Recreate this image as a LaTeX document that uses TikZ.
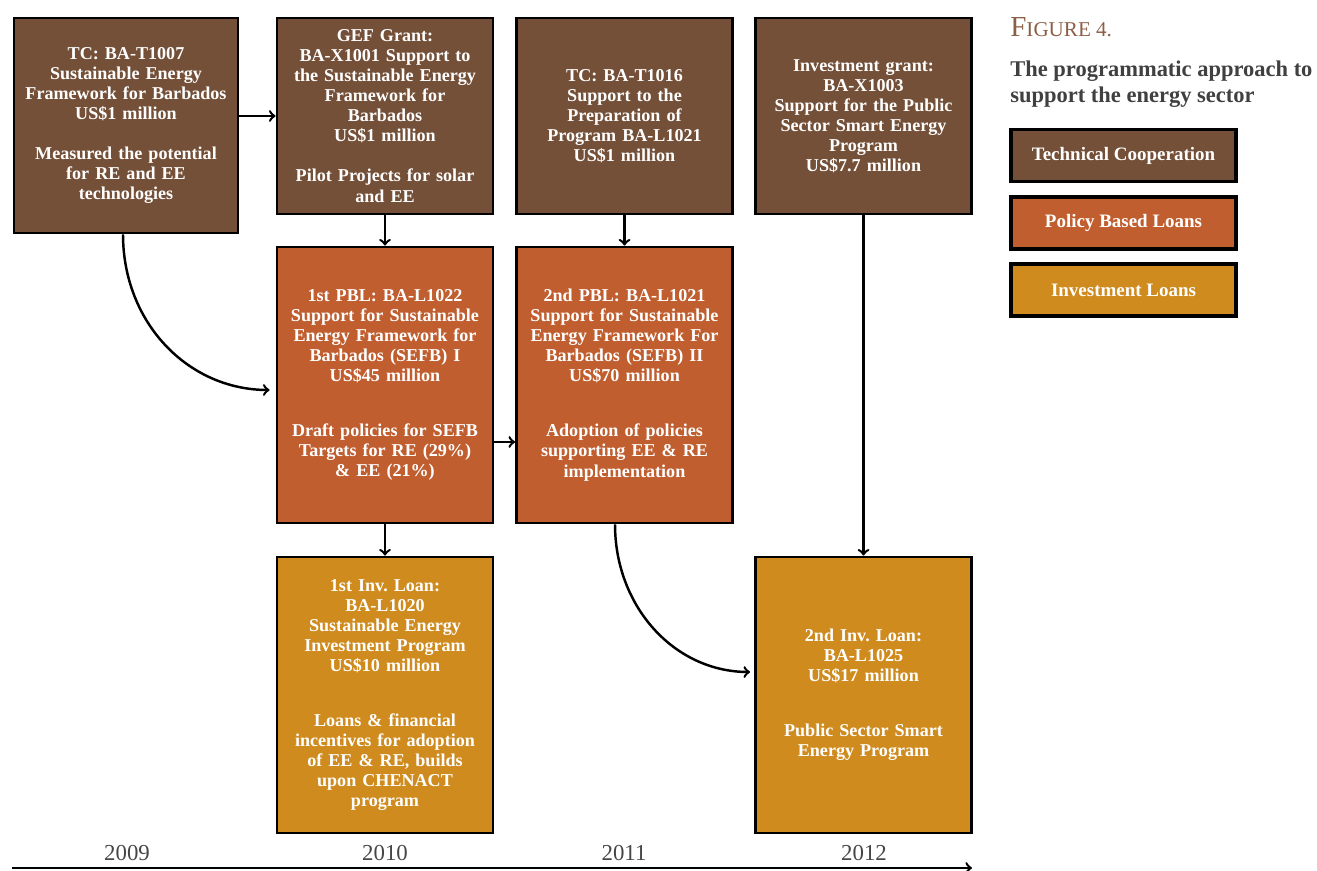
\documentclass[tikz,border=0pt]{standalone}
\usepackage{fontspec}
\setmainfont{Liberation Serif}
\usepackage{tikz}
\usetikzlibrary{arrows}

\definecolor{tcbrown}{RGB}{116,80,56}
\definecolor{pblorange}{RGB}{192,94,47}
\definecolor{invgold}{RGB}{207,139,30}
\definecolor{figbrown}{RGB}{140,94,70}
\definecolor{titlegray}{RGB}{64,64,64}
\definecolor{yeargray}{RGB}{70,70,70}

\tikzset{
  progbox/.style={draw=black, line width=1.6pt, text=white, inner sep=0pt,
    align=center, text width=4.2cm, minimum width=4.32cm,
    font=\bfseries\fontsize{10.3}{11.4}\selectfont},
  tcbox/.style={progbox, fill=tcbrown, minimum height=3.92cm},
  pblbox/.style={progbox, fill=pblorange, minimum height=5.52cm},
  invbox/.style={progbox, fill=invgold, minimum height=5.52cm},
  legendbox/.style={draw=black, line width=1.8pt, text=white, inner sep=0pt,
    minimum width=4.5cm, minimum height=1.04cm,
    font=\bfseries\fontsize{10.8}{13}\selectfont},
  conn/.style={->, line width=1.4pt},
  yearlabel/.style={text=yeargray, font=\fontsize{13}{15}\selectfont}
}

\begin{document}
\begin{tikzpicture}[x=0.02cm, y=-0.02cm]

\useasboundingbox ( 0, 0 ) rectangle ( 1317, 871 );

% Technical cooperation row
\node (tcOne) at ( 126, 125.5 ) [tcbox, minimum width=4.48cm, minimum height=4.3cm]
  {TC: BA-T1007\\ Sustainable Energy\\ Framework for Barbados\\ US\$1 million\\[11.4pt]
   Measured the potential\\ for RE and EE\\ technologies};
\node (gefGrant) at ( 385, 116 ) [tcbox]
  {GEF Grant:\\ BA-X1001 Support to\\ the Sustainable Energy\\ Framework for\\ Barbados\\ US\$1 million\\[11.4pt]
   Pilot Projects for solar\\ and EE};
\node (tcTwo) at ( 624.5, 116 ) [tcbox]
  {TC: BA-T1016\\ Support to the\\ Preparation of\\ Program BA-L1021\\ US\$1 million};
\node (invGrant) at ( 863.5, 116 ) [tcbox]
  {Investment grant:\\ BA-X1003\\ Support for the Public\\ Sector Smart Energy\\ Program\\ US\$7.7 million};

% Policy based loans
\node (pblOne) at ( 385, 385 ) [pblbox]
  {1st PBL: BA-L1022\\ Support for Sustainable\\ Energy Framework for\\ Barbados (SEFB) I\\ US\$45 million\\[20pt]
   Draft policies for SEFB\\ Targets for RE (29\%)\\ \& EE (21\%)};
\node (pblTwo) at ( 624.5, 385 ) [pblbox]
  {2nd PBL: BA-L1021\\ Support for Sustainable\\ Energy Framework For\\ Barbados (SEFB) II\\ US\$70 million\\[20pt]
   Adoption of policies\\ supporting EE \& RE\\ implementation};

% Investment loans
\node (invOne) at ( 385, 695 ) [invbox]
  {1st Inv.\ Loan:\\ BA-L1020\\ Sustainable Energy\\ Investment Program\\ US\$10 million\\[20pt]
   Loans \& financial\\ incentives for adoption\\ of EE \& RE, builds\\ upon CHENACT\\ program};
\node (invTwo) at ( 863.5, 695 ) [invbox]
  {2nd Inv.\ Loan:\\ BA-L1025\\ US\$17 million\\[20pt]
   Public Sector Smart\\ Energy Program};

% Links
\draw [conn] (tcOne.east |- gefGrant.west) -- (gefGrant.west);
\draw [conn] (gefGrant.south) -- (pblOne.north);
\draw [conn] (tcTwo.south) -- (pblTwo.north);
\draw [conn] (invGrant.south) -- (invTwo.north);
\draw [conn] (pblOne.south) -- (invOne.north);
\draw [conn] ([yshift=-1.14cm]pblOne.east) -- ([yshift=-1.14cm]pblTwo.west);
\draw [conn] ([xshift=-0.06cm]tcOne.south) .. controls +( 0, 88 ) and +( -82, 0 )
  .. ([xshift=-0.12cm, yshift=-0.1cm]pblOne.west);
\draw [conn] ([xshift=-0.19cm]pblTwo.south) .. controls +( 0, 82 ) and +( -76, 0 )
  .. ([xshift=-0.08cm, yshift=0.46cm]invTwo.west);

% Time line
\coordinate (lineStart) at ( 12, 868 );
\coordinate (lineEnd) at ( 972, 868 );
\draw [conn] (lineStart) -- (lineEnd);
\node (yearA) at ( 127, 853 ) [yearlabel] {2009};
\node (yearB) at ( 385, 853 ) [yearlabel] {2010};
\node (yearC) at ( 624, 853 ) [yearlabel] {2011};
\node (yearD) at ( 864, 853 ) [yearlabel] {2012};

% Caption and legend
\node (figLabel) at ( 1010, 37 ) [anchor=base west, inner sep=0pt, text=figbrown]
  {{\fontsize{16.5}{18}\selectfont F}{\fontsize{12}{14}\selectfont IGURE 4.}};
\node (figTitle) at ( 1010, 61 ) [anchor=north west, inner sep=0pt, align=left, text=titlegray,
  font=\bfseries\fontsize{12.8}{14.8}\selectfont]
  {The programmatic approach to\\ support the energy sector};
\node (legTc) at ( 1123.5, 155.5 ) [legendbox, fill=tcbrown] {Technical Cooperation};
\node (legPbl) at ( 1123.5, 223 ) [legendbox, fill=pblorange] {Policy Based Loans};
\node (legInv) at ( 1123.5, 290 ) [legendbox, fill=invgold] {Investment Loans};

\end{tikzpicture}
\end{document}
